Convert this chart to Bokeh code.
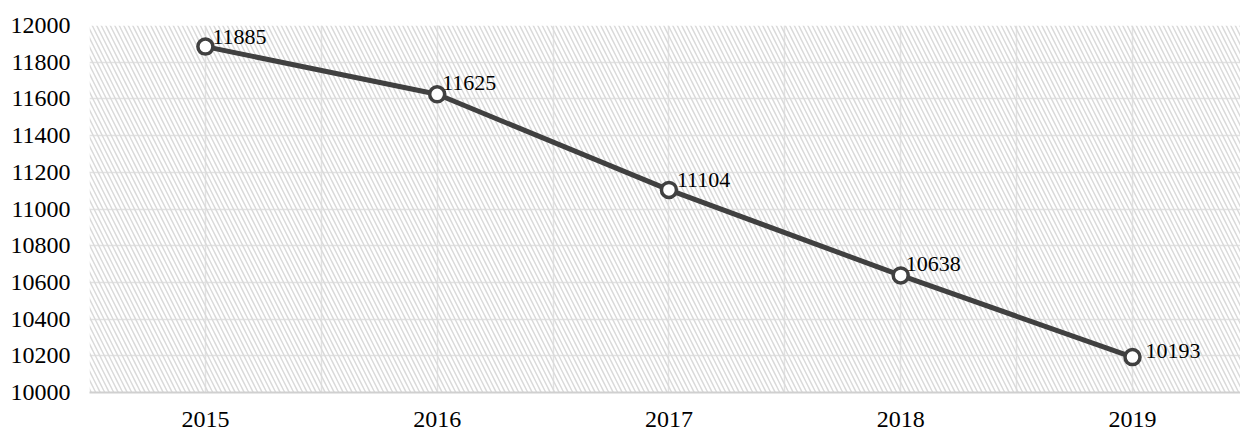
from bokeh.plotting import figure
from bokeh.models import (ColumnDataSource, FixedTicker, Range1d, BoxAnnotation)
from bokeh.embed import file_html
from bokeh.resources import INLINE

years = ["2015", "2016", "2017", "2018", "2019"]
values = [11885, 11625, 11104, 10638, 10193]
y_ticks = list(range(10000, 12001, 200))

xs = list(range(len(years)))
FONT = "Liberation Serif"
LINE_COLOR = "#404040"

p = figure(width=1240, height=430, output_backend="svg", toolbar_location=None,
           x_range=Range1d(-0.5, 4.466), y_range=Range1d(10000, 12000),
           min_border_left=89, min_border_right=0, min_border_top=25, min_border_bottom=38)
p.outline_line_color = None
p.background_fill_color = "white"
p.border_fill_color = "white"

hatch = BoxAnnotation(fill_alpha=0, line_alpha=0, hatch_pattern="\\", hatch_color="#dadada",
                      hatch_scale=9, hatch_weight=1.5, level="underlay")
p.add_layout(hatch)

# axes
p.yaxis.ticker = FixedTicker(ticks=y_ticks)
p.yaxis.axis_line_color = None
p.yaxis.major_tick_line_color = None
p.yaxis.minor_tick_line_color = None
p.yaxis.major_label_text_font = FONT
p.yaxis.major_label_text_font_size = "24px"
p.yaxis.major_label_text_color = "black"
p.yaxis.major_label_standoff = 13

p.xaxis.ticker = FixedTicker(ticks=xs)
p.xaxis.major_label_overrides = {i: y for i, y in enumerate(years)}
p.xaxis.axis_line_color = "#d0d0d0"
p.xaxis.axis_line_width = 2
p.xaxis.major_tick_line_color = None
p.xaxis.minor_tick_line_color = None
p.xaxis.major_label_text_font = FONT
p.xaxis.major_label_text_font_size = "24px"
p.xaxis.major_label_text_color = "black"
p.xaxis.major_label_standoff = 13

p.ygrid.ticker = FixedTicker(ticks=y_ticks)
p.ygrid.grid_line_color = "#e2e2e2"
p.ygrid.grid_line_width = 1.5
p.xgrid.ticker = FixedTicker(ticks=[i * 0.5 - 0.5 for i in range(10)])
p.xgrid.grid_line_color = "#e2e2e2"
p.xgrid.grid_line_width = 1.5

src = ColumnDataSource(dict(
    x=xs, y=values, label=[str(v) for v in values],
    dx=[7, 5, 8, 5, 13], dy=[-10, -11, -10, -11, -6],
))

p.line("x", "y", source=src, line_color=LINE_COLOR, line_width=5)
p.scatter("x", "y", source=src, size=15, marker="circle", fill_color="white",
          line_color=LINE_COLOR, line_width=3.5)
p.text("x", "y", text="label", source=src, x_offset="dx", y_offset="dy",
       text_font={"value": FONT}, text_font_size="22px", text_align="left",
       text_baseline="middle", text_color="black")

open("out.html", "w").write(file_html(p, INLINE))
